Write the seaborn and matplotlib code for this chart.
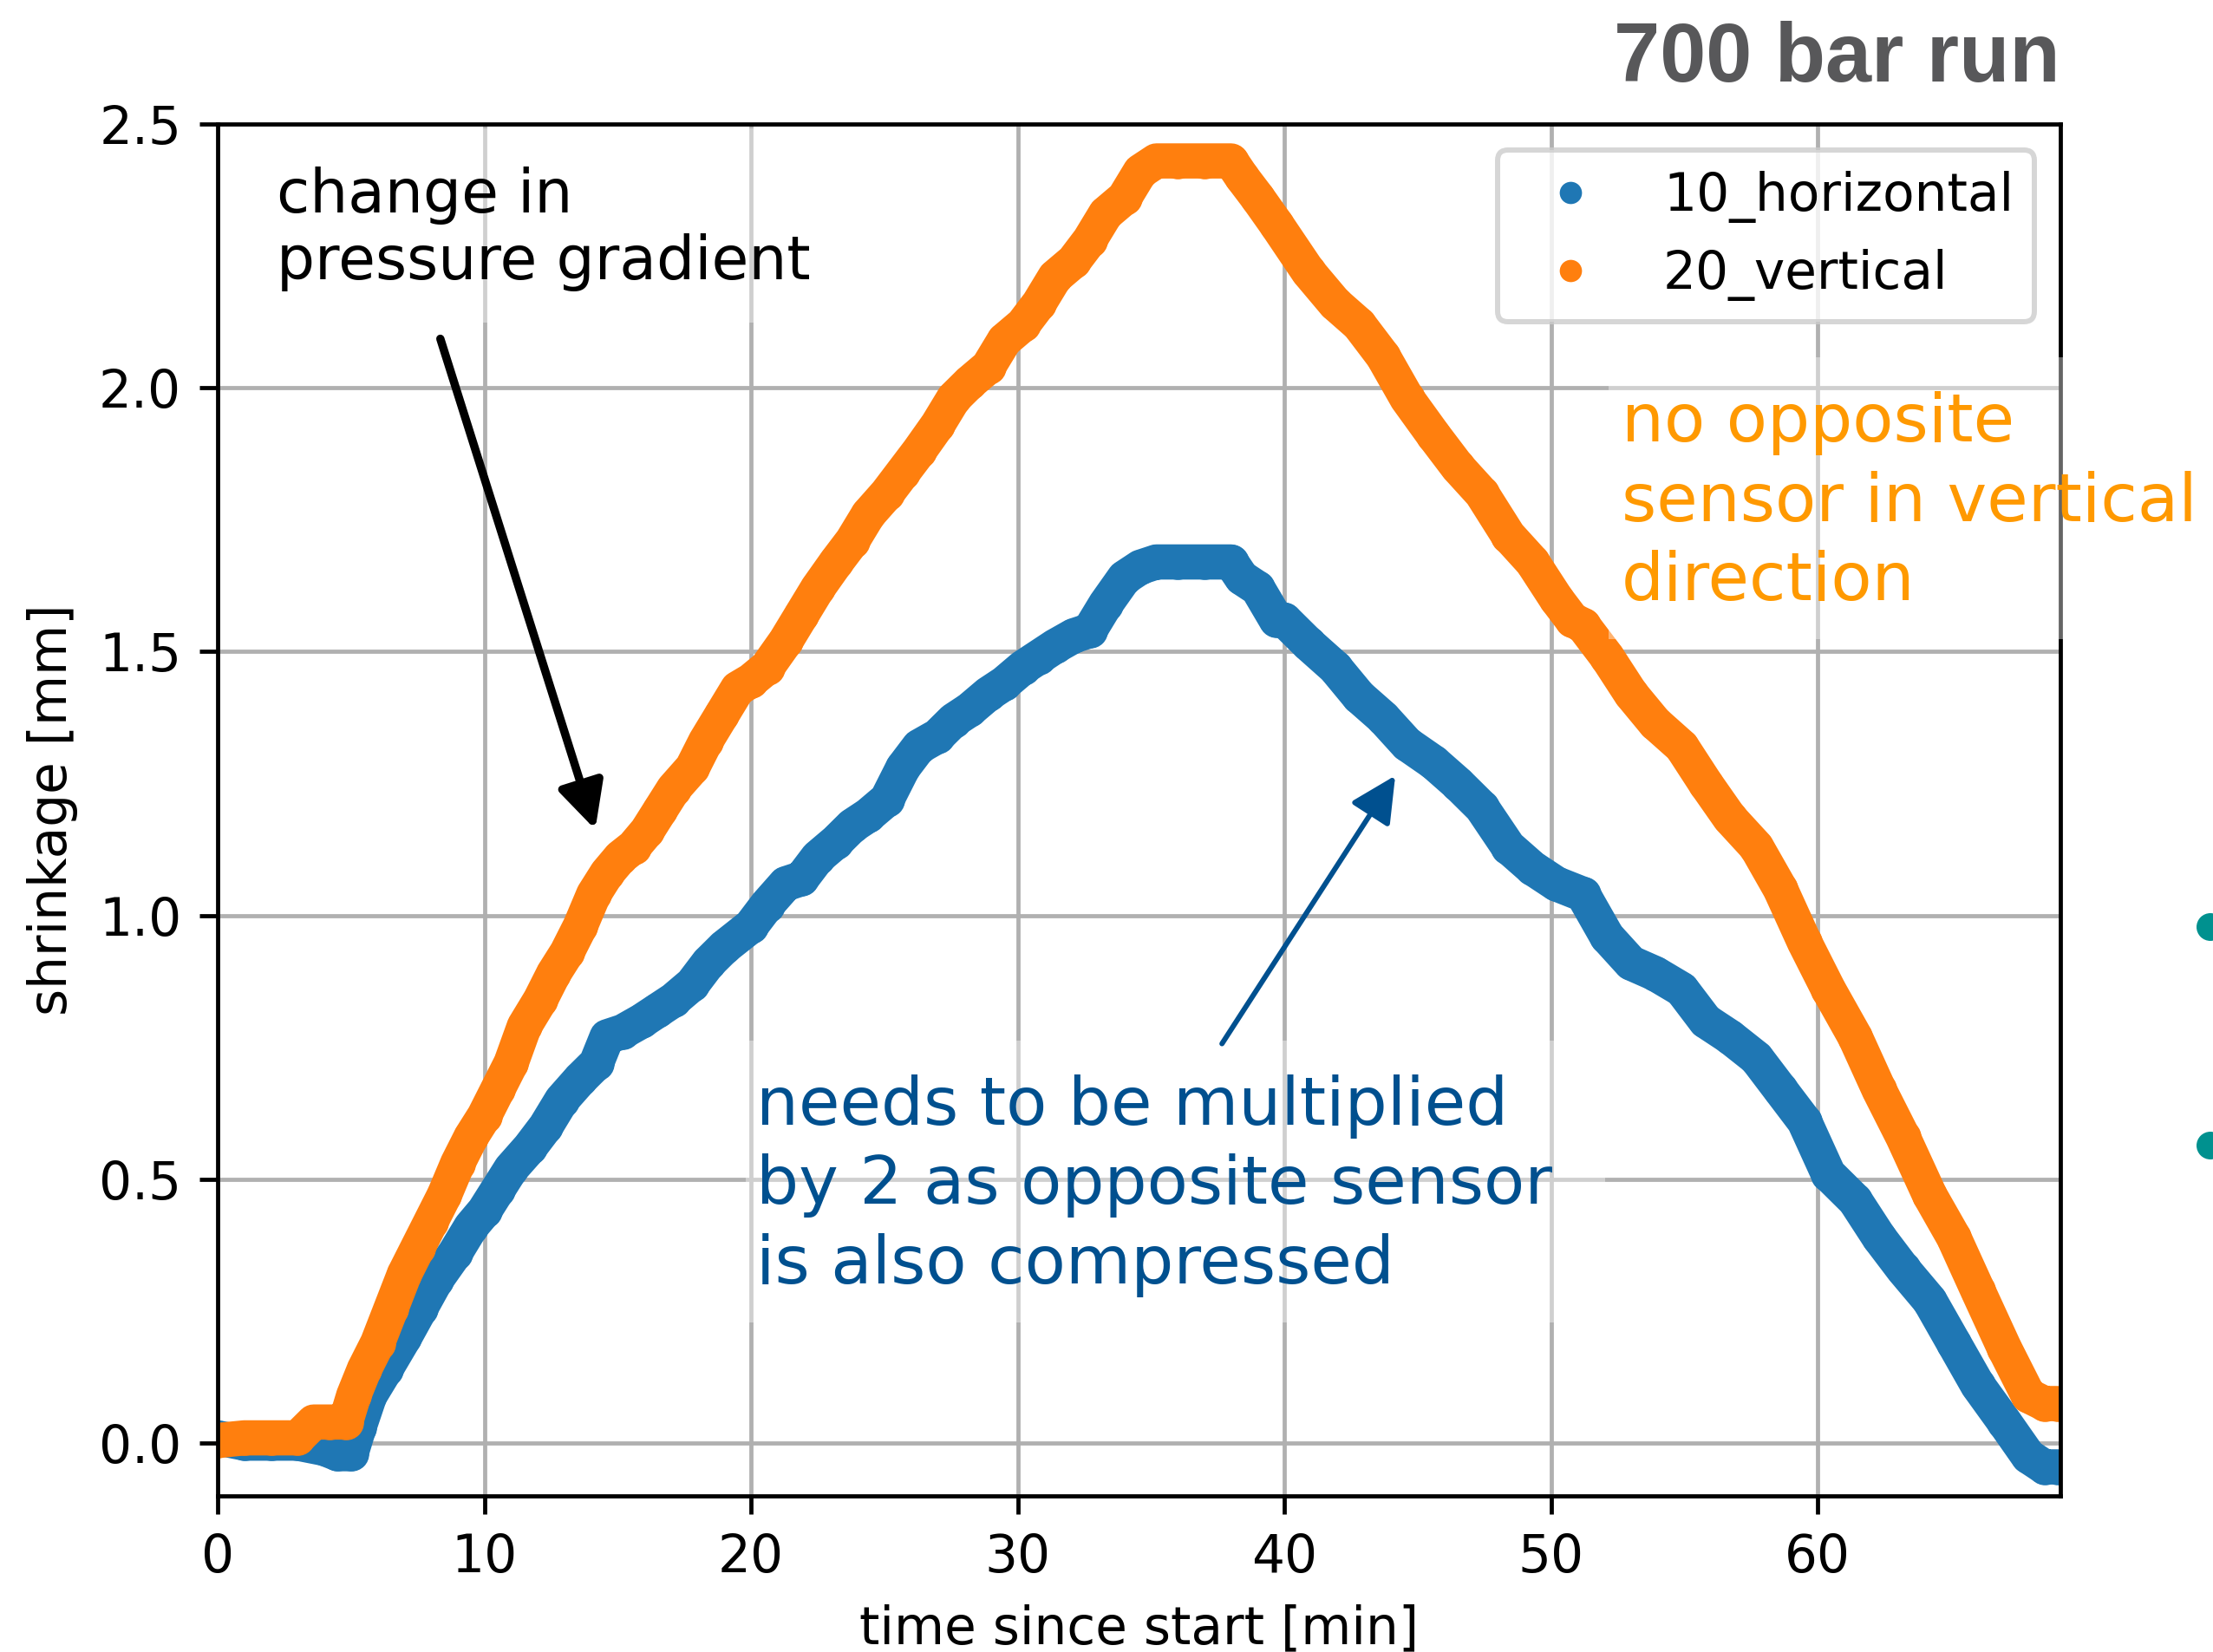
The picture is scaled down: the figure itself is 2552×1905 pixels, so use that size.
import numpy as np
import pandas as pd
import matplotlib
matplotlib.use("Agg")
import matplotlib.pyplot as plt
import seaborn as sns
from matplotlib.lines import Line2D
from matplotlib.patches import Rectangle, Ellipse

# ---------------- data ----------------
series_names = ["10_horizontal", "20_vertical"]
series_colors = ["#1f77b4", "#ff7f0e"]

t_horizontal = [0, 1, 2, 3, 4, 4.5, 5.0, 5.3, 5.7, 6.3, 7.0, 7.6, 8.2, 8.9, 9.5,
                10.0, 10.5, 11.0, 11.7, 12.3, 12.9, 13.6, 14.2, 14.6, 15.2, 15.9,
                16.5, 17.1, 17.8, 18.4, 19.0, 20.0, 20.6, 21.3, 21.9, 22.5, 23.2,
                23.8, 24.4, 25.1, 25.7, 26.3, 27.0, 27.6, 28.2, 28.9, 29.5, 30.2,
                30.8, 31.4, 32.1, 32.7, 33.3, 34.0, 34.6, 35.2, 36.0, 37.0, 38.0,
                38.4, 39.0, 39.7, 40.0, 40.9, 41.9, 42.8, 43.7, 44.6, 45.6, 46.5,
                47.4, 48.4, 49.3, 50.2, 51.2, 52.1, 53.0, 53.9, 54.9, 55.8, 56.7,
                57.7, 58.6, 59.5, 60.4, 61.4, 62.3, 63.2, 64.2, 65.1, 66.0, 67.0,
                67.9, 68.5, 69.0]
v_horizontal = [0.01, 0.0, 0.0, 0.0, -0.01, -0.02, -0.02, 0.03, 0.09, 0.14, 0.20,
                0.255, 0.31, 0.36, 0.41, 0.44, 0.48, 0.52, 0.56, 0.60, 0.65, 0.69,
                0.72, 0.77, 0.78, 0.80, 0.82, 0.84, 0.87, 0.91, 0.94, 0.98, 1.02,
                1.06, 1.07, 1.11, 1.14, 1.17, 1.19, 1.22, 1.28, 1.32, 1.34, 1.37,
                1.39, 1.42, 1.44, 1.47, 1.49, 1.51, 1.53, 1.54, 1.59, 1.64, 1.66,
                1.67, 1.67, 1.67, 1.67, 1.64, 1.62, 1.56, 1.56, 1.515, 1.47, 1.415,
                1.375, 1.325, 1.29, 1.25, 1.205, 1.13, 1.09, 1.06, 1.04, 0.96, 0.91,
                0.89, 0.86, 0.80, 0.77, 0.73, 0.67, 0.61, 0.51, 0.46, 0.39, 0.33,
                0.27, 0.19, 0.11, 0.04, -0.025, -0.045, -0.045]

t_vertical = [0, 1, 2, 3, 3.6, 4.2, 4.8, 5.1, 5.5, 6.0, 6.5, 7.0, 7.5, 8.0, 8.5,
              9.0, 9.5, 10.0, 10.5, 11.0, 11.5, 12.1, 12.6, 13.1, 13.6, 14.1, 14.6,
              15.1, 15.6, 16.1, 16.6, 17.1, 17.8, 18.3, 18.9, 19.5, 20.0, 20.6,
              21.3, 21.9, 22.5, 23.2, 23.8, 24.4, 25.1, 25.7, 26.3, 27.0, 27.6,
              28.2, 28.9, 29.5, 30.2, 30.8, 31.4, 32.1, 32.7, 33.3, 34.0, 34.6,
              35.2, 36.0, 37.0, 38.0, 38.4, 39.0, 39.7, 40.9, 41.9, 42.8, 43.7,
              44.6, 45.6, 46.5, 47.4, 48.4, 49.3, 50.2, 50.8, 51.2, 52.1, 53.0,
              53.9, 54.9, 55.8, 56.7, 57.7, 58.6, 59.5, 60.4, 61.4, 62.3, 63.2,
              64.2, 65.1, 66.0, 67.0, 67.9, 68.5, 69.0]
v_vertical = [0.005, 0.01, 0.01, 0.01, 0.04, 0.04, 0.04, 0.09, 0.14, 0.19, 0.255,
              0.32, 0.37, 0.42, 0.47, 0.53, 0.58, 0.62, 0.67, 0.72, 0.79, 0.84,
              0.89, 0.93, 0.98, 1.04, 1.08, 1.11, 1.13, 1.16, 1.20, 1.24, 1.28,
              1.33, 1.38, 1.43, 1.445, 1.47, 1.52, 1.57, 1.62, 1.67, 1.71, 1.76,
              1.80, 1.84, 1.88, 1.93, 1.98, 2.01, 2.04, 2.09, 2.12, 2.16, 2.21,
              2.24, 2.28, 2.33, 2.36, 2.41, 2.43, 2.43, 2.43, 2.43, 2.40, 2.36,
              2.31, 2.22, 2.16, 2.12, 2.06, 1.98, 1.91, 1.85, 1.80, 1.72, 1.67,
              1.60, 1.56, 1.55, 1.49, 1.42, 1.365, 1.32, 1.25, 1.185, 1.13, 1.05,
              0.95, 0.86, 0.77, 0.67, 0.58, 0.47, 0.39, 0.29, 0.18, 0.09, 0.075,
              0.075]

x_ticks = [0, 10, 20, 30, 40, 50, 60]
y_ticks = [0.0, 0.5, 1.0, 1.5, 2.0, 2.5]

assert len(t_horizontal) == len(v_horizontal)
assert len(t_vertical) == len(v_vertical)

df = pd.concat([
    pd.DataFrame({"t": t_horizontal, "v": v_horizontal, "sensor": series_names[0]}),
    pd.DataFrame({"t": t_vertical, "v": v_vertical, "sensor": series_names[1]}),
], ignore_index=True)

# ---------------- figure ----------------
DPI = 430
W, H = 2552, 1905
fig = plt.figure(figsize=(W / DPI, H / DPI), dpi=DPI)
ax = fig.add_axes([251 / W, 1 - 1725 / H, (2376 - 251) / W, (1725 - 143) / H])
ax.set_axisbelow(True)
ax.grid(True, color="#b0b0b0", lw=0.8)

band_lw = 6.8
for name, col in zip(series_names, series_colors):
    sub = df[df["sensor"] == name]
    sns.lineplot(data=sub, x="t", y="v", ax=ax, color=col, lw=band_lw,
                 sort=False, estimator=None, legend=False,
                 solid_capstyle="round", solid_joinstyle="round", zorder=2)
    sns.scatterplot(data=sub, x="t", y="v", ax=ax, color=col, s=band_lw ** 2,
                    linewidth=0, legend=False, zorder=2)

ax.set_xlim(0, 69.1)
ax.set_ylim(-0.1, 2.5)
ax.set_xticks(x_ticks)
ax.set_yticks(y_ticks)
ax.set_xlabel("time since start [min]")
ax.set_ylabel("shrinkage [mm]")

handles = [Line2D([], [], marker="o", ls="", color=c, markersize=4.3,
                  markeredgewidth=0) for c in series_colors]
ax.legend(handles, series_names, loc="upper right")

# semi-transparent slide text boxes
for (x0, y0, x1, y1) in [(270, 148, 960, 372), (860, 1200, 1851, 1525),
                         (1855, 412, 2552, 737)]:
    r = Rectangle((x0 / W, 1 - y1 / H), (x1 - x0) / W, (y1 - y0) / H,
                  transform=fig.transFigure, facecolor="white", alpha=0.4,
                  edgecolor="none", zorder=3)
    ax.add_patch(r)
    r.set_clip_on(False)

# annotations
ax.text(2.2, 2.42, "change in\npressure gradient", fontsize=11.65, color="black",
        va="top", ha="left", linespacing=1.2, zorder=4, clip_on=False)
ax.text(20.2, 0.699, "needs to be multiplied\nby 2 as opposite sensor\nis also compressed",
        fontsize=12.95, color="#00508f", va="top", ha="left", linespacing=1.3,
        zorder=4, clip_on=False)
ax.text(52.65, 1.993, "no opposite\nsensor in vertical\ndirection",
        fontsize=12.95, color="#ff9900", va="top", ha="left", linespacing=1.3,
        zorder=4, clip_on=False)

ax.annotate("", xy=(14.16, 1.163), xytext=(8.35, 2.093),
            arrowprops=dict(arrowstyle="-|>,head_length=0.75,head_width=0.375",
                            mutation_scale=10, lw=1.6, color="black",
                            shrinkA=0, shrinkB=0), zorder=4)
ax.annotate("", xy=(44.16, 1.265), xytext=(37.66, 0.757),
            arrowprops=dict(arrowstyle="-|>,head_length=0.75,head_width=0.375",
                            mutation_scale=10, lw=1.0, color="#00508f",
                            shrinkA=0, shrinkB=0), zorder=4)

# title
fig.text(2376 / W, 1 - 94 / H, "700 bar run", fontsize=16.0, fontweight="bold",
         family=["Liberation Sans", "DejaVu Sans"], color="#58585a",
         ha="right", va="baseline")

# slide bullet dots cut by the right edge
for yc in (1069, 1321):
    fig.add_artist(Ellipse((2549 / W, 1 - yc / H), 32 / W, 32 / H,
                           transform=fig.transFigure, color="#00918f", lw=0))

fig.savefig("out.png", dpi=DPI)
